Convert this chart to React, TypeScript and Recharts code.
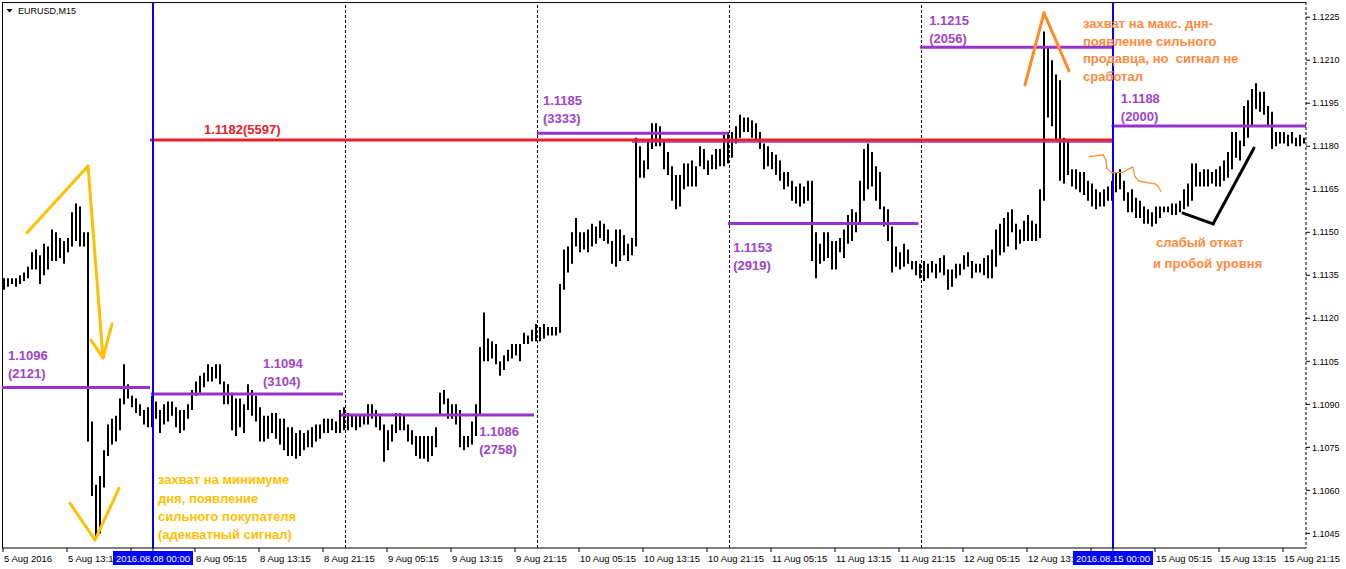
import React from 'react';
import { ComposedChart, Bar, XAxis, YAxis, ReferenceLine, ReferenceDot } from 'recharts';

const FONT = '"Liberation Sans", Arial, sans-serif';

// ---- trading days (30-minute bars) ----
const tradingDays = ['5 Aug', '8 Aug', '9 Aug', '10 Aug', '11 Aug', '12 Aug', '15 Aug', '16 Aug'];
const firstBarTime = ['05:30', '00:00', '00:00', '00:00', '00:00', '00:00', '00:00', '00:00'];

// ---- bar highs / lows per day ----
const aug05High = [1.1134,1.1134,1.1134,1.1134,1.1135,1.1136,1.1138,1.1143,1.1144,1.1142,1.1146,1.1145,1.1151,1.1150,1.1148,1.1147,1.1148,1.1157,1.1160,1.1159,1.1150,1.1150,1.1084,1.1062,1.1065,1.1074,1.1083,1.1085,1.1086,1.1092,1.1104,1.1097,1.1093,1.1092,1.1090,1.1088,1.1089];
const aug05Low = [1.1130,1.1131,1.1132,1.1131,1.1132,1.1133,1.1134,1.1137,1.1137,1.1132,1.1135,1.1137,1.1140,1.1140,1.1141,1.1139,1.1143,1.1145,1.1147,1.1145,1.1145,1.1077,1.1058,1.1044,1.1045,1.1061,1.1072,1.1076,1.1077,1.1081,1.1090,1.1092,1.1089,1.1087,1.1086,1.1083,1.1082];

const aug08High = [1.1093,1.1091,1.1088,1.1090,1.1091,1.1091,1.1089,1.1088,1.1088,1.1090,1.1095,1.1098,1.1100,1.1101,1.1104,1.1103,1.1104,1.1104,1.1098,1.1097,1.1094,1.1092,1.1092,1.1090,1.1097,1.1095,1.1093,1.1089,1.1086,1.1086,1.1087,1.1087,1.1085,1.1085,1.1082,1.1082,1.1080,1.1081,1.1080,1.1081,1.1082,1.1083,1.1083,1.1085,1.1085,1.1085,1.1084,1.1088];
const aug08Low = [1.1082,1.1085,1.1080,1.1083,1.1084,1.1086,1.1082,1.1080,1.1081,1.1085,1.1088,1.1093,1.1094,1.1096,1.1098,1.1098,1.1099,1.1097,1.1090,1.1090,1.1081,1.1079,1.1082,1.1080,1.1088,1.1086,1.1084,1.1077,1.1077,1.1078,1.1080,1.1078,1.1076,1.1074,1.1072,1.1072,1.1071,1.1072,1.1074,1.1075,1.1075,1.1077,1.1078,1.1080,1.1080,1.1081,1.1080,1.1080];

const aug09High = [1.1089,1.1087,1.1086,1.1086,1.1086,1.1086,1.1090,1.1090,1.1088,1.1086,1.1083,1.1081,1.1083,1.1087,1.1087,1.1086,1.1083,1.1081,1.1079,1.1079,1.1079,1.1079,1.1079,1.1082,1.1094,1.1095,1.1092,1.1090,1.1090,1.1088,1.1079,1.1079,1.1084,1.1090,1.1110,1.1122,1.1113,1.1112,1.1111,1.1105,1.1107,1.1109,1.1111,1.1111,1.1111,1.1115,1.1114,1.1116];
const aug09Low = [1.1081,1.1081,1.1082,1.1081,1.1082,1.1083,1.1083,1.1085,1.1082,1.1081,1.1070,1.1074,1.1077,1.1080,1.1081,1.1081,1.1077,1.1076,1.1072,1.1071,1.1071,1.1070,1.1072,1.1075,1.1086,1.1090,1.1085,1.1085,1.1083,1.1075,1.1074,1.1075,1.1076,1.1079,1.1086,1.1105,1.1105,1.1106,1.1104,1.1100,1.1102,1.1105,1.1106,1.1107,1.1105,1.1111,1.1111,1.1112];

const aug10High = [1.1118,1.1117,1.1118,1.1117,1.1117,1.1117,1.1132,1.1144,1.1145,1.1150,1.1155,1.1150,1.1150,1.1151,1.1153,1.1152,1.1154,1.1153,1.1151,1.1147,1.1151,1.1151,1.1149,1.1146,1.1148,1.1183,1.1180,1.1175,1.1182,1.1188,1.1188,1.1187,1.1182,1.1178,1.1173,1.1170,1.1170,1.1174,1.1174,1.1175,1.1173,1.1180,1.1179,1.1175,1.1177,1.1179,1.1179,1.1184];
const aug10Low = [1.1112,1.1112,1.1113,1.1114,1.1114,1.1114,1.1115,1.1130,1.1136,1.1139,1.1145,1.1143,1.1144,1.1143,1.1145,1.1146,1.1148,1.1147,1.1146,1.1139,1.1138,1.1140,1.1142,1.1140,1.1142,1.1145,1.1169,1.1169,1.1172,1.1179,1.1180,1.1180,1.1172,1.1170,1.1161,1.1158,1.1159,1.1165,1.1166,1.1166,1.1166,1.1173,1.1172,1.1170,1.1172,1.1172,1.1173,1.1173];

const aug11High = [1.1185,1.1185,1.1187,1.1191,1.1190,1.1190,1.1189,1.1188,1.1185,1.1181,1.1180,1.1178,1.1177,1.1175,1.1171,1.1171,1.1168,1.1166,1.1167,1.1166,1.1168,1.1168,1.1150,1.1146,1.1150,1.1150,1.1147,1.1147,1.1148,1.1151,1.1156,1.1158,1.1157,1.1168,1.1179,1.1181,1.1178,1.1173,1.1171,1.1159,1.1158,1.1152,1.1145,1.1143,1.1146,1.1144,1.1140,1.1140];
const aug11Low = [1.1174,1.1176,1.1181,1.1183,1.1185,1.1185,1.1183,1.1182,1.1179,1.1172,1.1173,1.1172,1.1170,1.1168,1.1165,1.1166,1.1161,1.1160,1.1159,1.1160,1.1161,1.1140,1.1134,1.1139,1.1140,1.1141,1.1137,1.1137,1.1143,1.1141,1.1146,1.1147,1.1150,1.1153,1.1161,1.1165,1.1166,1.1161,1.1158,1.1152,1.1147,1.1136,1.1138,1.1137,1.1138,1.1139,1.1137,1.1135];

const aug12High = [1.1139,1.1140,1.1139,1.1140,1.1139,1.1141,1.1142,1.1137,1.1137,1.1139,1.1139,1.1142,1.1143,1.1140,1.1139,1.1139,1.1141,1.1142,1.1144,1.1151,1.1153,1.1155,1.1157,1.1158,1.1153,1.1151,1.1154,1.1156,1.1154,1.1153,1.1165,1.1220,1.1215,1.1210,1.1205,1.1203,1.1183,1.1182,1.1172,1.1172,1.1171,1.1171,1.1168,1.1167,1.1165,1.1164,1.1165,1.1166];
const aug12Low = [1.1134,1.1133,1.1134,1.1136,1.1134,1.1136,1.1135,1.1130,1.1131,1.1134,1.1135,1.1137,1.1138,1.1134,1.1136,1.1136,1.1135,1.1134,1.1134,1.1138,1.1142,1.1143,1.1145,1.1150,1.1144,1.1146,1.1147,1.1147,1.1147,1.1147,1.1148,1.1161,1.1190,1.1187,1.1182,1.1168,1.1167,1.1170,1.1166,1.1165,1.1164,1.1163,1.1161,1.1159,1.1158,1.1159,1.1159,1.1161];

const aug15High = [1.1168,1.1171,1.1172,1.1168,1.1164,1.1165,1.1162,1.1161,1.1159,1.1158,1.1157,1.1159,1.1159,1.1159,1.1159,1.1160,1.1160,1.1161,1.1165,1.1167,1.1174,1.1174,1.1171,1.1172,1.1172,1.1171,1.1172,1.1173,1.1175,1.1178,1.1185,1.1185,1.1182,1.1194,1.1196,1.1200,1.1202,1.1199,1.1199,1.1194,1.1192,1.1185,1.1185,1.1185,1.1184,1.1185,1.1183,1.1184];
const aug15Low = [1.1161,1.1164,1.1165,1.1161,1.1157,1.1157,1.1155,1.1155,1.1153,1.1153,1.1152,1.1153,1.1155,1.1157,1.1157,1.1156,1.1156,1.1157,1.1158,1.1159,1.1161,1.1166,1.1166,1.1166,1.1166,1.1167,1.1166,1.1166,1.1168,1.1169,1.1172,1.1176,1.1175,1.1180,1.1183,1.1187,1.1193,1.1192,1.1191,1.1187,1.1179,1.1180,1.1181,1.1181,1.1180,1.1181,1.1180,1.1180];

const aug16High = [1.1183];
const aug16Low = [1.1181];

const dayHighs = [aug05High, aug08High, aug09High, aug10High, aug11High, aug12High, aug15High, aug16High];
const dayLows = [aug05Low, aug08Low, aug09Low, aug10Low, aug11Low, aug12Low, aug15Low, aug16Low];

// ---- axis ticks ----
const priceTicks = [1.1045, 1.1060, 1.1075, 1.1090, 1.1105, 1.1120, 1.1135, 1.1150, 1.1165, 1.1180, 1.1195, 1.1210, 1.1225];
// visible time labels (the ones partly hidden behind the highlighted date boxes are shown as they appear)
const timeTickLabels = ['5 Aug 2016', '5 Aug 13:1', '', '8 Aug 05:15', '8 Aug 13:15', '8 Aug 21:15', '9 Aug 05:15', '9 Aug 13:15', '9 Aug 21:15', '10 Aug 05:15', '10 Aug 13:15', '10 Aug 21:15', '11 Aug 05:15', '11 Aug 13:15', '11 Aug 21:15', '12 Aug 05:15', '12 Aug 13:', '', '15 Aug 05:15', '15 Aug 13:15', '15 Aug 21:15'];
const timeTickBars = [-0.25, 15.75, 31.75, 47.75, 63.75, 79.75, 95.75, 111.75, 127.75, 143.75, 159.75, 175.75, 191.75, 207.75, 223.75, 239.75, 255.75, 271.75, 287.75, 303.75, 319.75];

// week-start vertical lines (blue) and their highlighted labels
const weekMarks = [
  { bar: 37.25, label: '2016.08.08 00:00' },
  { bar: 277.25, label: '2016.08.15 00:00' },
];
// day separators (dashed)
const daySeparators = [85.375, 133.375, 181.375, 229.375];

// ---- daily levels ----
const levels = [
  { price: 1.10959, from: -0.5, to: 36.5, text: ['1.1096', '(2121)'], at: [1, 1.11072] },
  { price: 1.10936, from: 36.75, to: 84.75, text: ['1.1094', '(3104)'], at: [64.75, 1.11043] },
  { price: 1.10863, from: 84.25, to: 132.5, text: ['1.1086', '(2758)'], at: [118.8, 1.10808] },
  { price: 1.11845, from: 133.2, to: 181.1, text: ['1.1185', '(3333)'], at: [134.75, 1.11962] },
  { price: 1.11531, from: 181, to: 228.6, text: ['1.1153', '(2919)'], at: [182.3, 1.1145] },
  { price: 1.12145, from: 229, to: 277.25, text: ['1.1215', '(2056)'], at: [231.3, 1.12241] },
  { price: 1.11871, from: 276.9, to: 325.5, text: ['1.1188', '(2000)'], at: [279.2, 1.11967] },
];
const weekLevel = { price: 1.11822, from: 36.5, to: 277.5, text: '1.1182(5597)', at: [50, 1.1186] };
const weekLevelShadow = { price: 1.11815, from: 157, to: 277.25 };

// ---- hand-drawn annotations (bar index, price) ----
const yellowPaths = [
  [[5.75, 1.11498], [21, 1.11731], [24.75, 1.11062]],
  [[21.75, 1.11124], [24.75, 1.11062], [27, 1.1118]],
  [[16.5, 1.10555], [22.75, 1.10427], [28.75, 1.10607]],
];
const orangePaths = [
  [[255.25, 1.12014], [260, 1.12265], [266.25, 1.12063]],
];
const orangeThinPath = [[271.3, 1.11764], [274.8, 1.1177], [275.5, 1.11752], [275.7, 1.11723], [276.9, 1.11708], [279.8, 1.11709], [281.5, 1.11723], [282.2, 1.11727], [282.75, 1.11694], [283.6, 1.11679], [285.7, 1.11673], [287.75, 1.11669], [288.6, 1.11659], [289.2, 1.11642]];
const blackPath = [[294.75, 1.11567], [302.25, 1.11529], [312.5, 1.11794]];

const notes = [
  { lines: ['захват на минимуме', 'дня, появление', 'сильного покупателя', '(адекватный сигнал)'], at: [38.5, 1.10638], gap: 18.2, color: '#FFC000' },
  { lines: ['захват на макс. дня-', 'появление сильного', 'продавца, но  сигнал не', 'сработал'], at: [269.75, 1.12229], gap: 17.6, color: '#FF8A3D' },
  { lines: ['слабый откат'], at: [288, 1.11467], gap: 18, color: '#FF8A3D' },
  { lines: ['и пробой уровня'], at: [287.25, 1.11394], gap: 18, color: '#FF8A3D' },
];

// ---- build rows ----
type Row = { bar: number; time: string; range: [number, number] };
const rows: Row[] = [];
{
  let n = 0;
  tradingDays.forEach((day, d) => {
    const [hh, mm] = firstBarTime[d].split(':').map(Number);
    dayHighs[d].forEach((h, j) => {
      const m = hh * 60 + mm + 30 * j;
      const t = `${day} ${String(Math.floor(m / 60)).padStart(2, '0')}:${String(m % 60).padStart(2, '0')}`;
      rows.push({ bar: n++, time: t, range: [dayLows[d][j], h] });
    });
  });
}

const PURPLE = '#9932CC';
const PURPLE_TEXT = '#A044C8';
const RED = '#E8202A';

const textShape = (lines: string[], color: string, gap: number, size = 13) => (p: any) => (
  <text x={p.cx} y={p.cy} fill={color} fontSize={size} fontWeight="bold" fontFamily={FONT} dominantBaseline="central" style={{ whiteSpace: 'pre' }}>
    {lines.map((l, k) => (
      <tspan key={k} x={p.cx} dy={k === 0 ? 0 : gap}>{l}</tspan>
    ))}
  </text>
);

const XTick = (props: any) => {
  const { x, y, payload } = props;
  const v = payload?.value;
  const mark = weekMarks.find((m) => m.bar === v);
  if (mark) {
    return (
      <g>
        <rect x={x - 40} y={y - 1} width={80} height={14} fill="#0000FF" />
        <text x={x} y={y + 9.5} textAnchor="middle" fill="#FFFFFF" fontSize={9.5} fontFamily={FONT}>{mark.label}</text>
      </g>
    );
  }
  const k = timeTickBars.indexOf(v);
  if (k < 0 || !timeTickLabels[k]) return null;
  return (
    <text x={x + 1} y={y + 9.5} fill="#000" fontSize={9.5} fontFamily={FONT}>{timeTickLabels[k]}</text>
  );
};

const segs = (path: number[][], key: string, color: string, width: number) =>
  path.slice(1).map((pt, k) => (
    <ReferenceLine
      key={`${key}-${k}`}
      segment={[{ x: path[k][0], y: path[k][1] }, { x: pt[0], y: pt[1] }]}
      stroke={color}
      strokeWidth={width}
      strokeLinecap="round"
      ifOverflow="visible"
    />
  ));

export default function App() {
  return (
    <div style={{ position: 'absolute', left: 0, top: 0, width: 1346, height: 569, background: '#fff' }}>
      <ComposedChart width={1346} height={569} data={rows} margin={{ top: 2, right: 0, bottom: 0, left: 2 }}>
        <XAxis
          type="number"
          dataKey="bar"
          domain={[-0.5, 325.5]}
          allowDataOverflow
          ticks={[...timeTickBars, ...weekMarks.map((m) => m.bar)]}
          interval={0}
          tickSize={4}
          tickMargin={0}
          height={21}
          axisLine={{ stroke: '#000' }}
          tickLine={{ stroke: '#000' }}
          tick={(p: any) => <XTick {...p} />}
        />
        <YAxis
          orientation="right"
          type="number"
          domain={[1.10399, 1.12303]}
          allowDataOverflow
          ticks={priceTicks}
          interval={0}
          width={40}
          tickSize={4}
          tickMargin={2}
          tickFormatter={(v: number) => v.toFixed(4)}
          tick={{ fontSize: 9, fill: '#000', fontFamily: FONT }}
          axisLine={{ stroke: '#000', strokeDasharray: '3 2' }}
          tickLine={{ stroke: '#000' }}
        />
        {/* frame */}
        <ReferenceLine x={-0.375} stroke="#000" ifOverflow="visible" />
        <ReferenceLine y={1.12301} stroke="#000" ifOverflow="visible" />
        {daySeparators.map((b) => (
          <ReferenceLine key={`d${b}`} x={b} stroke="#000" strokeDasharray="3 2" ifOverflow="visible" />
        ))}
        <Bar dataKey="range" fill="#000" barSize={2} isAnimationActive={false} />
        {levels.map((l, k) => (
          <ReferenceLine key={`lv${k}`} segment={[{ x: l.from, y: l.price }, { x: l.to, y: l.price }]} stroke={PURPLE} strokeWidth={3} ifOverflow="visible" />
        ))}
        <ReferenceLine segment={[{ x: weekLevelShadow.from, y: weekLevelShadow.price }, { x: weekLevelShadow.to, y: weekLevelShadow.price }]} stroke={PURPLE} strokeWidth={1.5} ifOverflow="visible" />
        <ReferenceLine segment={[{ x: weekLevel.from, y: weekLevel.price }, { x: weekLevel.to, y: weekLevel.price }]} stroke={RED} strokeWidth={3} ifOverflow="visible" />
        {weekMarks.map((m) => (
          <ReferenceLine key={`w${m.bar}`} x={m.bar} stroke="#0000FF" strokeWidth={2} ifOverflow="visible" />
        ))}
        {yellowPaths.map((p, k) => segs(p, `y${k}`, '#FFC000', 3))}
        {orangePaths.map((p, k) => segs(p, `o${k}`, '#FF8A28', 3))}
        {segs(orangeThinPath, 'ot', '#FF8A28', 1.2)}
        {segs(blackPath, 'bk', '#000', 3)}
        {levels.map((l, k) => (
          <ReferenceDot key={`lt${k}`} x={l.at[0]} y={l.at[1]} r={0} ifOverflow="visible" shape={textShape(l.text, PURPLE_TEXT, 18)} />
        ))}
        <ReferenceDot x={weekLevel.at[0]} y={weekLevel.at[1]} r={0} ifOverflow="visible" shape={textShape([weekLevel.text], RED, 18)} />
        {notes.map((n, k) => (
          <ReferenceDot key={`n${k}`} x={n.at[0]} y={n.at[1]} r={0} ifOverflow="visible" shape={textShape(n.lines, n.color, n.gap)} />
        ))}
      </ComposedChart>
      <svg width={90} height={20} style={{ position: 'absolute', left: 0, top: 0 }}>
        <polygon points="6.5,9 12.5,9 9.5,12.5" fill="#000" />
        <text x={18} y={14} fontSize={9} fontFamily={FONT} fill="#000">EURUSD,M15</text>
      </svg>
    </div>
  );
}
